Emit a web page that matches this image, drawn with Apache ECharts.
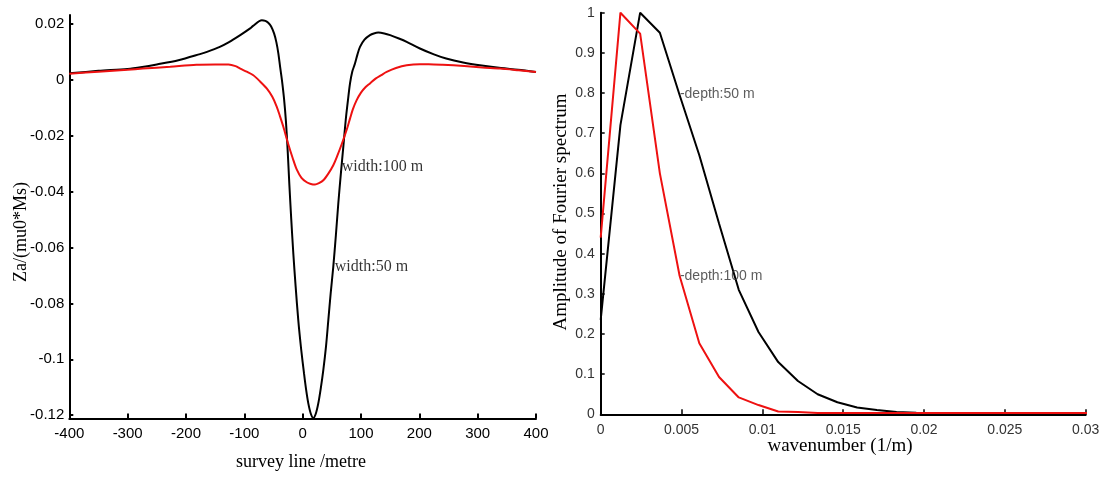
<!DOCTYPE html>
<html>
<head>
<meta charset="utf-8">
<script src="https://cdn.jsdelivr.net/npm/echarts@6/dist/echarts.min.js"></script>
<style>
html,body{margin:0;padding:0;background:#fff;}
#c{width:1104px;height:477px;}
</style>
</head>
<body>
<div id="c"></div>
<script>
// ---- Left panel: Za along survey line (metres) ----
const surveyX = [-400,-350,-300,-275,-250,-213,-176,-164,-142,-127,-107,-90,-85,-70,-64,-59,-54,-49,-45,-41.6,-38.5,-35.5,-32,-28.6,-25.5,-22.9,-19.5,-16,-12,-7.5,-2.5,2.3,6,9.7,14,18.3,22.5,26.8,31,35.4,40,44,48,52.5,57,61.1,65.5,69.7,73.8,77.5,81.2,85,89.7,94,98.3,106,115.4,122,129.7,140,150,165,178.3,201,225,246,275,307,340,369,400];
const za50 = [0.0024,0.0033,0.0040,0.0047,0.0056,0.0071,0.0093,0.0101,0.0119,0.0135,0.0161,0.0185,0.0194,0.0214,0.0212,0.0205,0.0192,0.0167,0.0135,0.0095,0.0045,0.0,-0.0065,-0.0150,-0.0260,-0.0370,-0.0500,-0.0621,-0.0740,-0.0860,-0.0965,-0.1050,-0.1110,-0.1158,-0.1195,-0.1210,-0.1195,-0.1158,-0.1105,-0.1039,-0.0955,-0.0860,-0.0765,-0.0669,-0.0555,-0.0442,-0.0335,-0.0239,-0.0144,-0.0075,-0.0012,0.0030,0.0059,0.0092,0.0119,0.0145,0.0161,0.0167,0.0170,0.0167,0.0161,0.0149,0.0137,0.0113,0.0092,0.0077,0.0063,0.0052,0.0043,0.0037,0.0029];
const surveyX100 = [-400,-350,-300,-274,-227,-182,-150,-127,-115,-107,-96,-84.6,-73,-61.6,-52,-44.5,-38.8,-33,-24.6,-17,-10.2,-2,7,14,21.2,28,35.4,44,52.5,60,66.9,75.5,81.2,86,92.6,100,108,115.4,125,135,144,160,178.3,201,216,240,277,308,338,370,400];
const za100 = [0.0023,0.0030,0.0037,0.0041,0.0048,0.0055,0.0056,0.0056,0.0050,0.0041,0.0030,0.0017,-0.0005,-0.0030,-0.0060,-0.0095,-0.0130,-0.0168,-0.0230,-0.0280,-0.0320,-0.0350,-0.0366,-0.0372,-0.0374,-0.0369,-0.0359,-0.0335,-0.0305,-0.0268,-0.0230,-0.0178,-0.0138,-0.0105,-0.0072,-0.0045,-0.0025,-0.0012,0.0005,0.0018,0.0029,0.0043,0.0053,0.0057,0.0057,0.0055,0.0050,0.0045,0.0041,0.0035,0.0029];
const leftXTicks = ['-400','-300','-200','-100','0','100','200','300','400'];
const leftYTickValues = [-0.12,-0.1,-0.08,-0.06,-0.04,-0.02,0,0.02];
const leftYTickLabels = ['-0.12','-0.1','-0.08','-0.06','-0.04','-0.02','0','0.02'];

// ---- Right panel: Fourier amplitude spectrum ----
const waveK = [0,0.00122,0.00244,0.00366,0.00488,0.0061,0.00732,0.00854,0.00976,0.01098,0.0122,0.01342,0.01464,0.01586,0.01708,0.0183,0.01952,0.02074,0.02196,0.02318,0.0244,0.02562,0.02684,0.02806,0.02928,0.0305];
const ampDepth50 = [0.235,0.72,1.0,0.95,0.795,0.645,0.475,0.31,0.205,0.13,0.083,0.05,0.03,0.017,0.011,0.006,0.004,0.003,0.002,0.002,0.002,0.002,0.002,0.002,0.002,0.002];
const ampDepth100 = [0.44,1.0,0.948,0.60,0.345,0.177,0.093,0.042,0.023,0.007,0.006,0.003,0.003,0.003,0.003,0.003,0.003,0.003,0.003,0.003,0.003,0.003,0.003,0.003,0.003,0.003];
const rightXTicks = ['0','0.005','0.01','0.015','0.02','0.025','0.03'];
const rightYTicks = ['0','0.1','0.2','0.3','0.4','0.5','0.6','0.7','0.8','0.9','1'];

// annotation anchors (data coordinates)
const notesLeft = [{text:'width:100 m', x:67, y:-0.0312},{text:'width:50 m', x:55, y:-0.0669}];
const notesRight = [{text:'-depth:50 m', x:0.0049, y:0.797},{text:'-depth:100 m', x:0.0049, y:0.344}];

const pairs = (xs, ys) => xs.map((x,i)=>[x, ys[i]]);
const serif = 'Liberation Serif, Times New Roman, serif';
const sans = 'Liberation Sans, Arial, sans-serif';

const chart = echarts.init(document.getElementById('c'), null, {renderer:'canvas'});
const axisLineL = {show:true, onZero:false, lineStyle:{color:'#000', width:2}};
const axisLineR = {show:true, onZero:false, lineStyle:{color:'#000', width:2}};

chart.setOption({
  animation:false,
  backgroundColor:'#fff',
  grid:[
    {left:69.3, top:15, width:466.7, height:403.6},
    {left:600.7, top:12.7, width:485, height:401.6}
  ],
  xAxis:[
    {type:'value', gridIndex:0, min:-400, max:400, interval:100,
     axisLine:axisLineL, splitLine:{show:false},
     axisTick:{inside:true, length:5, lineStyle:{color:'#000', width:2}},
     axisLabel:{margin:8, color:'#000', fontFamily:sans, fontSize:15,
       formatter:v=>leftXTicks[Math.round((v+400)/100)]}},
    {type:'value', gridIndex:1, min:0, max:0.03, interval:0.005,
     axisLine:axisLineR, splitLine:{show:false},
     axisTick:{inside:true, length:5, lineStyle:{color:'#000', width:1.5}},
     axisLabel:{margin:9, color:'#333', fontFamily:sans, fontSize:14,
       formatter:v=>rightXTicks[Math.round(v/0.005)]}}
  ],
  yAxis:[
    {type:'value', gridIndex:0, min:-0.12125, max:0.0233,
     axisLine:axisLineL, splitLine:{show:false},
     axisTick:{inside:true, length:4, customValues:leftYTickValues, lineStyle:{color:'#000', width:2}},
     axisLabel:{margin:5, color:'#000', fontFamily:sans, fontSize:15, customValues:leftYTickValues,
       formatter:v=>{const i=leftYTickValues.findIndex(t=>Math.abs(t-v)<1e-6);return i>=0?leftYTickLabels[i]:'';}}},
    {type:'value', gridIndex:1, min:0, max:1, interval:0.1,
     axisLine:axisLineR, splitLine:{show:false},
     axisTick:{inside:true, length:4, lineStyle:{color:'#000', width:1.5}},
     axisLabel:{margin:6, color:'#333', fontFamily:sans, fontSize:14,
       formatter:v=>rightYTicks[Math.round(v/0.1)]}}
  ],
  series:[
    {type:'line', xAxisIndex:0, yAxisIndex:0, data:pairs(surveyX, za50), showSymbol:false, symbol:'none',
     smooth:0.3, lineStyle:{color:'#000', width:2}, z:3},
    {type:'line', xAxisIndex:0, yAxisIndex:0, data:pairs(surveyX100, za100), showSymbol:false, symbol:'none',
     smooth:0.3, lineStyle:{color:'#ee1111', width:2}, z:4},
    {type:'line', xAxisIndex:1, yAxisIndex:1, data:pairs(waveK, ampDepth50), showSymbol:false, symbol:'none',
     lineStyle:{color:'#000', width:2}, z:3},
    {type:'line', xAxisIndex:1, yAxisIndex:1, data:pairs(waveK, ampDepth100), showSymbol:false, symbol:'none',
     lineStyle:{color:'#ee1111', width:2}, z:4},
    {type:'scatter', xAxisIndex:0, yAxisIndex:0, symbolSize:0, silent:true, z:6,
     data:notesLeft.map(n=>({value:[n.x,n.y], label:{formatter:n.text}})),
     label:{show:true, position:'right', distance:0, color:'#000', fontFamily:serif, fontSize:16}},
    {type:'scatter', xAxisIndex:1, yAxisIndex:1, symbolSize:0, silent:true, z:6,
     data:notesRight.map(n=>({value:[n.x,n.y], label:{formatter:n.text}})),
     label:{show:true, position:'right', distance:0, color:'#333', fontFamily:sans, fontSize:14}}
  ],
  graphic:[
    {type:'text', x:21, y:232, rotation:Math.PI/2,
     style:{text:'Za/(mu0*Ms)', font:'18px '+serif, fill:'#000', textAlign:'center', textVerticalAlign:'middle'}},
    {type:'text', x:301, y:462,
     style:{text:'survey line /metre', font:'18px '+serif, fill:'#000', textAlign:'center', textVerticalAlign:'middle'}},
    {type:'text', x:561, y:212, rotation:Math.PI/2,
     style:{text:'Amplitude of Fourier spectrum', font:'19px '+serif, fill:'#000', textAlign:'center', textVerticalAlign:'middle'}},
    {type:'text', x:840, y:446,
     style:{text:'wavenumber (1/m)', font:'19px '+serif, fill:'#000', textAlign:'center', textVerticalAlign:'middle'}}
  ]
});
</script>
</body>
</html>
